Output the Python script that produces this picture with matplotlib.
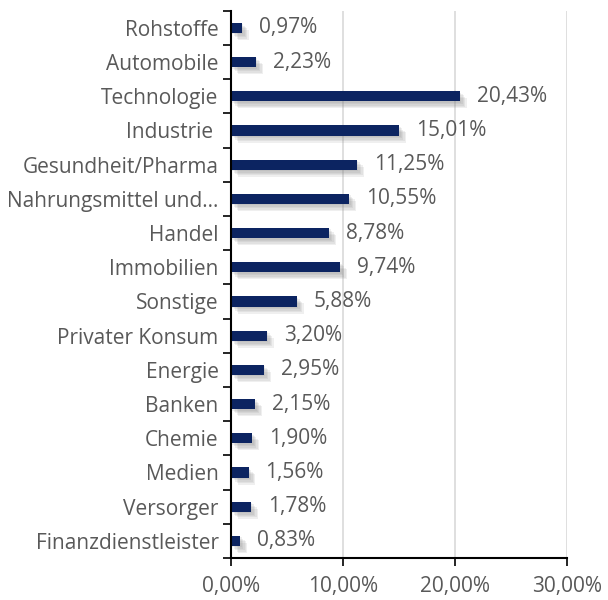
import matplotlib
matplotlib.use('Agg')
from matplotlib import pyplot as plt
from matplotlib import patheffects as pe
from matplotlib.ticker import FuncFormatter, FixedLocator

sectors = ['Rohstoffe', 'Automobile', 'Technologie', 'Industrie ', 'Gesundheit/Pharma',
           'Nahrungsmittel und…', 'Handel', 'Immobilien', 'Sonstige', 'Privater Konsum',
           'Energie', 'Banken', 'Chemie', 'Medien', 'Versorger', 'Finanzdienstleister']
weights = [0.97, 2.23, 20.43, 15.01, 11.25, 10.55, 8.78, 9.74, 5.88, 3.20,
           2.95, 2.15, 1.90, 1.56, 1.78, 0.83]
x_ticks = [0, 10, 20, 30]

plt.rcParams['font.family'] = ['Open Sans', 'DejaVu Sans']
text_col = '#595959'
bar_col = '#0c2461'
fs = 15

fig = plt.figure(figsize=(6.08, 6.0), dpi=100)
ax = fig.add_axes([0.38, 0.07, 0.5526, 0.912])

pos = list(range(len(sectors)))
bars = ax.barh(pos, weights, height=0.3, color=bar_col, zorder=3)
shadow = [pe.SimplePatchShadow(offset=(k, -k), shadow_rgbFace='#808080', alpha=0.12)
          for k in (1, 2, 3, 4, 5)]
for b in bars:
    b.set_path_effects(shadow + [pe.Normal()])

for p, w in zip(pos, weights):
    ax.text(w + 1.5, p, '{:.2f}%'.format(w).replace('.', ','), va='center', ha='left',
            fontsize=fs, color=text_col, zorder=4)

ax.set_ylim(len(sectors) - 0.5, -0.5)
ax.set_xlim(0, 30)
ax.set_yticks(pos)
ax.set_yticklabels(sectors, fontsize=fs, color=text_col)
ax.yaxis.set_minor_locator(FixedLocator([i - 0.5 for i in range(len(sectors) + 1)]))
ax.tick_params(axis='y', which='major', length=0, pad=9)
ax.tick_params(axis='y', which='minor', length=6, width=1.2, color='black')
ax.set_xticks(x_ticks)
ax.xaxis.set_major_formatter(FuncFormatter(lambda v, _: '{:.2f}%'.format(v).replace('.', ',')))
ax.tick_params(axis='x', length=6, width=1.2, color='black', labelsize=fs, labelcolor=text_col, pad=7)
ax.grid(axis='x', color='#d9d9d9', linewidth=1.2, zorder=0)
for s in ['top', 'right']:
    ax.spines[s].set_visible(False)
for s in ['left', 'bottom']:
    ax.spines[s].set_linewidth(1.5)
    ax.spines[s].set_color('black')
    ax.spines[s].set_zorder(5)

fig.savefig('out.png', dpi=100)
